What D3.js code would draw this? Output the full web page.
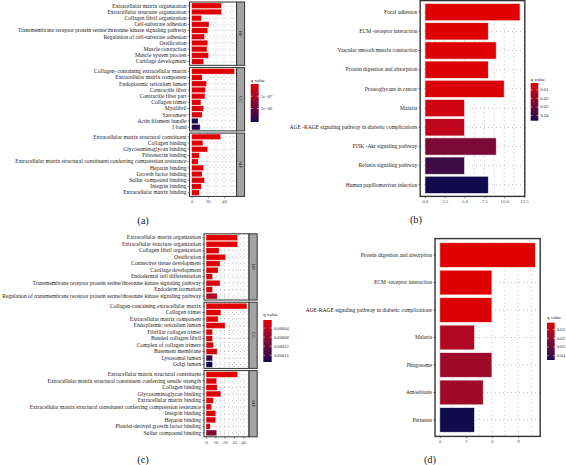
<!DOCTYPE html>
<html><head><meta charset="utf-8">
<script src="https://cdn.jsdelivr.net/npm/d3@7"></script>
<style>body{margin:0;background:#fff}svg{display:block}</style>
</head><body><svg id="c" width="566" height="465"></svg>
<script>
// ---------------- DATA ----------------
// Panel (a) GO enrichment
const aBP_terms = ["Extracellular matrix organization","Extracellular structure organization","Collagen fibril organization","Cell-substrate adhesion","Transmembrane receptor protein serine/threonine kinase signaling pathway","Regulation of cell-substrate adhesion","Ossification","Muscle contraction","Muscle system process","Cartilage development"];
const aBP_count = [37,37,12,21.5,20,16,20,19,21,15];
const aBP_q = [2e-9,3e-9,1e-8,2e-8,3e-8,4e-8,5e-8,6e-8,7e-8,8e-8];
const aCC_terms = ["Collagen- containing extracellular matrix","Extracellular matrix component","Endoplasmic reticulum lumen","Contractile fiber","Contractile fiber part","Collagen trimer","Myofibril","Sarcomere","Actin filament bundle","I band"];
const aCC_count = [53,13,18.5,17,16.5,11.5,15,13,8,10.5];
const aCC_q = [1e-9,2e-8,4e-8,5e-8,6e-8,7e-8,8e-8,9e-8,1.55e-6,1.45e-6];
const aMF_terms = ["Extracellular matrix structural constituent","Collagen binding","Glycosaminoglycan binding","Fibronectin binding","Extracellular matrix structural constituent conferring compression resistance","Heparin binding","Growth factor binding","Sulfur compound binding","Integrin binding","Extracellular matrix binding"];
const aMF_count = [36,14,20,9.5,8,15,13,16,12,9.5];
const aMF_q = [2e-9,1e-8,2e-8,3e-8,4e-8,5e-8,6e-8,7e-8,8e-8,9e-8];
const aTicks = [0,20,40];
const aLegendTicks = [5e-7,1e-6];
const aLegendLabels = ["5e\u221207","1e\u221206"];

// Panel (b) KEGG
const bTerms = ["Focal adhesion","ECM -receptor interaction","Vascular smooth muscle contraction","Protein digestion and absorption","Proteoglycans in cancer","Malaria","AGE -RAGE signaling pathway in diabetic complications","PI3K -Akt signaling pathway","Relaxin signaling pathway","Human papillomavirus infection"];
const bCount = [12,8,9,8,10,5,5,9,5,8];
const bQ = [0.002,0.0025,0.003,0.003,0.0035,0.006,0.010,0.026,0.039,0.046];
const bTicks = [0,2.5,5,7.5,10,12.5];
const bTickLabels = ["0.0","2.5","5.0","7.5","10.0","12.5"];
const bLegendTicks = [0.01,0.02,0.03,0.04];
const bLegendLabels = ["0.01","0.02","0.03","0.04"];

// Panel (c) GO enrichment
const cBP_terms = ["Extracellular matrix organization","Extracellular structure organization","Collagen fibril organization","Ossification","Connective tissue development","Cartilage development","Endodermal cell differentiation","Transmembrane receptor protein serine/threonine kinase signaling pathway","Endoderm formation","Regulation of transmembrane receptor protein serine/threonine kinase signaling pathway"];
const cBP_count = [34,34,14,21,15,13,7,15,7,12];
const cBP_q = [4.4e-6,5e-6,6e-6,8e-6,1e-5,1.2e-5,1.5e-5,1.5e-5,1.8e-5,5e-5];
const cCC_terms = ["Collagen-containing extracellular matrix","Collagen trimer","Extracellular matrix component","Endoplasmic reticulum lumen","Fibrillar collagen trimer","Banded collagen fibril","Complex of collagen trimers","Basement membrane","Lysosomal lumen","Golgi lumen"];
const cCC_count = [44,16,13,20.5,7,7,8,12,7,7];
const cCC_q = [4.5e-6,6e-6,8e-6,1e-5,1.2e-5,1.4e-5,1.6e-5,2e-5,1.65e-4,1.9e-4];
const cMF_terms = ["Extracellular matrix structural constituent","Extracellular matrix structural constituent conferring tensile strength","Collagen binding","Glycosaminoglycan binding","Extracellular matrix binding","Extracellular matrix structural constituent conferring compression resistance","Integrin binding","Heparin binding","Platelet-derived growth factor binding","Sulfur compound binding"];
const cMF_count = [34,11.5,12,16,8,6,10.5,10.5,4.5,11.5];
const cMF_q = [4.4e-6,6e-6,8e-6,1e-5,1.2e-5,1.4e-5,1.6e-5,1.8e-5,2.2e-5,1e-4];
const cTicks = [0,10,20,30,40];
const cLegendTicks = [4e-5,8e-5,1.2e-4,1.6e-4];
const cLegendLabels = ["0.00004","0.00008","0.00012","0.00016"];

// Panel (d) KEGG
const dTerms = ["Protein digestion and absorption","ECM -receptor interaction","AGE-RAGE signaling pathway in diabetic complications","Malaria","Phagosome","Amoebiasis","Pertussis"];
const dCount = [11,6,6,4,6,5,4];
const dQ = [0.002,0.0025,0.003,0.0128,0.017,0.017,0.045];
const dTicks = [0,3,6,9];
const dLegendTicks = [0.01,0.02,0.03,0.04];
const dLegendLabels = ["0.01","0.02","0.03","0.04"];

// ---------------- DRAWING ----------------
const RED = "#e10000", NAVY = "#120a4e";
const FONT = "'Liberation Serif','Times New Roman',serif";
const svg = d3.select("#c");
const defs = svg.append("defs");
let gradId = 0;

function colorScale(allQ){
  return d3.scaleLinear().domain(d3.extent(allQ)).range([RED,NAVY]).interpolate(d3.interpolateLab).clamp(true);
}

function drawPanel(o){
  const g = svg.append("g");
  const y = d3.scaleBand().domain(o.terms).range([o.y0,o.y1]).paddingInner(0.1).paddingOuter(0.15);
  const x = o.x;
  const grid = g.append("g").attr("stroke","#444").attr("stroke-width",0.55).attr("stroke-dasharray","0.6 3.4").attr("fill","none");
  o.gridX.forEach(v=>{
    grid.append("line").attr("x1",x(v)).attr("x2",x(v)).attr("y1",o.y0).attr("y2",o.y1);
  });
  o.terms.forEach(t=>{
    const yc = y(t)+y.bandwidth()/2;
    grid.append("line").attr("x1",x.range()[0]).attr("x2",x.range()[1]).attr("y1",yc).attr("y2",yc);
  });
  g.selectAll("rect.bar").data(o.terms).join("rect").attr("class","bar")
    .attr("x",x(0)).attr("y",t=>y(t))
    .attr("width",(t,i)=>x(o.counts[i])-x(0)).attr("height",y.bandwidth())
    .attr("fill",(t,i)=>o.color(o.qs[i]))
    .attr("stroke","#fff").attr("stroke-opacity",0.75).attr("stroke-width",o.barStroke||0.5);
  const ya = g.append("g").attr("transform",`translate(${x.range()[0]},0)`)
    .call(d3.axisLeft(y).tickSize(1.8).tickPadding(1.2));
  ya.select(".domain").remove();
  ya.selectAll("line").attr("stroke","#333").attr("stroke-width",0.6);
  ya.selectAll("text").attr("font-family",FONT).attr("font-size",o.labelSize).attr("fill","#1a1a1a");
  g.append("rect").attr("x",x.range()[0]).attr("y",o.y0).attr("width",x.range()[1]-x.range()[0]).attr("height",o.y1-o.y0)
    .attr("fill","none").attr("stroke","#333").attr("stroke-width",o.borderW||1);
  if(o.strip){
    g.append("rect").attr("x",x.range()[1]).attr("y",o.y0).attr("width",o.stripW).attr("height",o.y1-o.y0)
      .attr("fill","#a3a3a3").attr("stroke","#333").attr("stroke-width",o.borderW||1);
    const cx = x.range()[1]+o.stripW/2, cy=(o.y0+o.y1)/2;
    g.append("text").attr("transform",`translate(${cx},${cy}) rotate(90)`).attr("text-anchor","middle")
      .attr("dominant-baseline","central").attr("font-family",FONT).attr("font-size",4.8).attr("fill","#1a1a1a").text(o.strip);
  }
  if(o.ticks){
    const xa = g.append("g").attr("transform",`translate(0,${o.y1})`)
      .call(d3.axisBottom(x).tickValues(o.ticks).tickSize(1.8).tickPadding(1.5).tickFormat((d,i)=>o.tickLabels?o.tickLabels[i]:d));
    xa.select(".domain").remove();
    xa.selectAll("line").attr("stroke","#333").attr("stroke-width",0.6);
    xa.selectAll("text").attr("font-family",FONT).attr("font-size",o.tickSize||4.8).attr("fill","#4d4d4d");
  }
}

function drawLegend(o){
  const id = "grad"+(gradId++);
  const dom = o.color.domain();
  const lg = defs.append("linearGradient").attr("id",id).attr("x1",0).attr("y1",0).attr("x2",0).attr("y2",1);
  d3.range(0,1.0001,0.05).forEach(t=>{
    lg.append("stop").attr("offset",t).attr("stop-color",o.color(dom[0]+t*(dom[1]-dom[0])));
  });
  const g = svg.append("g");
  g.append("text").attr("x",o.x).attr("y",o.titleY).attr("font-family",FONT).attr("font-size",5).attr("fill","#1a1a1a")
    .attr("dominant-baseline","central").text("q value");
  g.append("rect").attr("x",o.x).attr("y",o.y0).attr("width",o.w).attr("height",o.y1-o.y0).attr("fill",`url(#${id})`);
  const ly = d3.scaleLinear().domain(dom).range([o.y0,o.y1]);
  o.ticks.forEach((v,i)=>{
    const yy = ly(v);
    g.append("line").attr("x1",o.x).attr("x2",o.x+1.6).attr("y1",yy).attr("y2",yy).attr("stroke","#fff").attr("stroke-width",0.6);
    g.append("line").attr("x1",o.x+o.w-1.6).attr("x2",o.x+o.w).attr("y1",yy).attr("y2",yy).attr("stroke","#fff").attr("stroke-width",0.6);
    g.append("text").attr("x",o.x+o.w+2.2).attr("y",yy).attr("dominant-baseline","central").attr("font-family",FONT)
      .attr("font-size",4.6).attr("fill","#333").text(o.labels[i]);
  });
}

function caption(txt,x,y){
  svg.append("text").attr("x",x).attr("y",y).attr("text-anchor","middle").attr("dominant-baseline","central")
    .attr("font-family",FONT).attr("font-size",10.5).attr("fill","#1a1a1a").text(txt);
}

// ----- Panel (a) -----
const colA = colorScale([...aBP_q,...aCC_q,...aMF_q]);
const xA = d3.scaleLinear().domain([-2.65,55.65]).range([189.5,236.6]);
const gridA = [0,10,20,30,40,50];
drawPanel({terms:aBP_terms,counts:aBP_count,qs:aBP_q,color:colA,x:xA,y0:2,y1:65.3,gridX:gridA,strip:"BP",stripW:8,labelSize:5.6});
drawPanel({terms:aCC_terms,counts:aCC_count,qs:aCC_q,color:colA,x:xA,y0:67.6,y1:130.9,gridX:gridA,strip:"CC",stripW:8,labelSize:5.6});
drawPanel({terms:aMF_terms,counts:aMF_count,qs:aMF_q,color:colA,x:xA,y0:133.1,y1:196.4,gridX:gridA,strip:"MF",stripW:8,labelSize:5.6,ticks:aTicks});
drawLegend({color:colA,x:250.7,w:8,y0:84,y1:122,titleY:80,ticks:aLegendTicks,labels:aLegendLabels});
caption("(a)",143,220);

// ----- Panel (b) -----
const colB = colorScale(bQ);
const xB = d3.scaleLinear().domain([-0.6,12.6]).range([420.2,524.8]);
drawPanel({terms:bTerms,counts:bCount,qs:bQ,color:colB,x:xB,y0:0.6,y1:196.4,gridX:[0,1.25,2.5,3.75,5,6.25,7.5,8.75,10,11.25,12.5],labelSize:5.5,ticks:bTicks,tickLabels:bTickLabels,borderW:1.4,barStroke:0.8});
drawLegend({color:colB,x:530.7,w:7.6,y0:83,y1:120.7,titleY:79,ticks:bLegendTicks,labels:bLegendLabels});
caption("(b)",416,219);

// ----- Panel (c) -----
const colC = colorScale([...cBP_q,...cCC_q,...cMF_q]);
const xC = d3.scaleLinear().domain([-2.2,46.2]).range([204,249]);
const gridC = [0,5,10,15,20,25,30,35,40,45];
drawPanel({terms:cBP_terms,counts:cBP_count,qs:cBP_q,color:colC,x:xC,y0:233.8,y1:300,gridX:gridC,strip:"BP",stripW:8.2,labelSize:5.6});
drawPanel({terms:cCC_terms,counts:cCC_count,qs:cCC_q,color:colC,x:xC,y0:302.2,y1:368.4,gridX:gridC,strip:"CC",stripW:8.2,labelSize:5.6});
drawPanel({terms:cMF_terms,counts:cMF_count,qs:cMF_q,color:colC,x:xC,y0:370.6,y1:436.8,gridX:gridC,strip:"MF",stripW:8.2,labelSize:5.6,ticks:cTicks});
drawLegend({color:colC,x:263.3,w:8.4,y0:320,y1:362,titleY:314,ticks:cLegendTicks,labels:cLegendLabels});
caption("(c)",143,459);

// ----- Panel (d) -----
const colD = colorScale(dQ);
const xD = d3.scaleLinear().domain([-0.55,11.55]).range([435,540.2]);
drawPanel({terms:dTerms,counts:dCount,qs:dQ,color:colD,x:xD,y0:238.6,y1:436.4,gridX:[0,1.5,3,4.5,6,7.5,9,10.5],labelSize:5.5,ticks:dTicks,borderW:1.4,barStroke:0.8});
drawLegend({color:colD,x:547,w:7.7,y0:322.7,y1:360,titleY:317.7,ticks:dLegendTicks,labels:dLegendLabels});
caption("(d)",430,459);
</script></body></html>
